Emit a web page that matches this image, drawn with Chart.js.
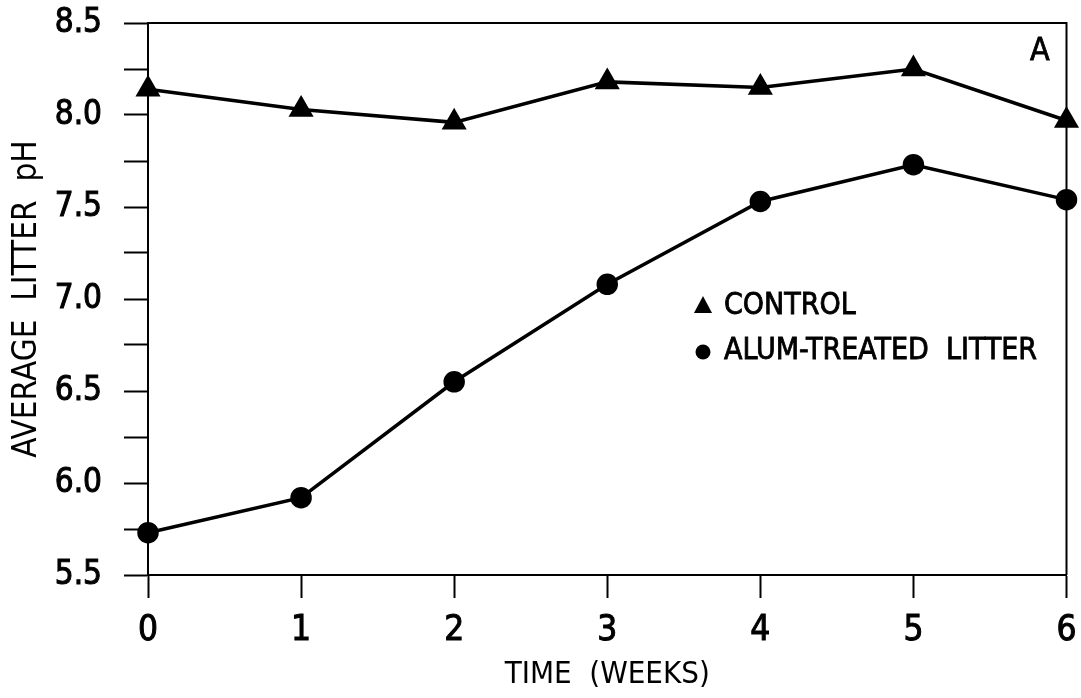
<!DOCTYPE html>
<html>
<head>
<meta charset="utf-8">
<script src="https://cdn.jsdelivr.net/npm/chart.js@4"></script>
<style>
  html, body { margin: 0; padding: 0; background: #fff; }
  #wrap { width: 1081px; height: 698px; position: relative; }
</style>
</head>
<body>
<div id="wrap"><canvas id="chart"></canvas></div>
<script>
// data
const weeks = ['0', '1', '2', '3', '4', '5', '6'];
const controlPH = [8.14, 8.03, 7.96, 8.18, 8.15, 8.25, 7.97];
const alumPH = [5.73, 5.92, 6.55, 7.08, 7.53, 7.73, 7.54];
const seriesNames = ['CONTROL', 'ALUM-TREATED  LITTER'];
const panelLabel = 'A';

const FONT = '"Liberation Sans Narrow", "DejaVu Sans Condensed", "Arial Narrow", sans-serif';

// draw the box around the plot, the legend and the panel letter
const framePlugin = {
    id: 'frame',
    afterDraw(chart) {
        const ctx = chart.ctx;
        const a = chart.chartArea;
        ctx.save();
        ctx.strokeStyle = '#000';
        ctx.lineWidth = 2;
        ctx.beginPath();
        ctx.moveTo(a.left, a.top);
        ctx.lineTo(a.right, a.top);
        ctx.lineTo(a.right, a.bottom);
        ctx.stroke();

        // legend
        ctx.fillStyle = '#000';
        ctx.lineWidth = 0.8;
        ctx.font = '30px ' + FONT;
        ctx.textBaseline = 'middle';
        ctx.textAlign = 'left';
        const lx = 703, tx = 724;
        const rows = [306, 351];
        chart.data.datasets.forEach((ds, i) => {
            const y = rows[i];
            ctx.beginPath();
            if (ds.pointStyle === 'triangle') {
                ctx.moveTo(lx, y - 10);
                ctx.lineTo(lx + 9, y + 7);
                ctx.lineTo(lx - 9, y + 7);
                ctx.closePath();
            } else {
                ctx.arc(lx, y + 1, 7.5, 0, Math.PI * 2);
            }
            ctx.fill();
            ctx.fillText(ds.label, tx, y);
            ctx.strokeText(ds.label, tx, y);
        });

        ctx.font = '32px ' + FONT;
        ctx.fillText(panelLabel, 1030, 52);
        ctx.strokeText(panelLabel, 1030, 52);
        ctx.restore();
    }
};

// drop the label overhang Chart.js reserves so the plot box sits where the figure has it
function noOverhang(scale) {
    scale.paddingTop = 0;
    scale.paddingBottom = 0;
    scale.paddingLeft = 0;
    scale.paddingRight = 0;
}

const chart = document.querySelector('#chart').getContext('2d');
new Chart(chart, {
    type: 'line',
    data: {
        labels: weeks,
        datasets: [
            {
                label: seriesNames[0],
                data: controlPH,
                borderColor: '#000',
                backgroundColor: '#000',
                borderWidth: 3.5,
                pointStyle: 'triangle',
                pointRadius: 11,
                pointHoverRadius: 11,
                tension: 0,
                clip: false
            },
            {
                label: seriesNames[1],
                data: alumPH,
                borderColor: '#000',
                backgroundColor: '#000',
                borderWidth: 3.5,
                pointStyle: 'circle',
                pointRadius: 9,
                pointHoverRadius: 9,
                tension: 0,
                clip: false
            }
        ]
    },
    options: {
        responsive: true,
        maintainAspectRatio: false,
        animation: false,
        layout: { padding: { top: 23, right: 13, left: 0, bottom: 0 } },
        plugins: {
            legend: { display: false },
            tooltip: { enabled: false }
        },
        scales: {
            x: {
                offset: false,
                grid: {
                    drawOnChartArea: false,
                    drawTicks: true,
                    tickLength: 23,
                    tickWidth: 2,
                    color: '#000'
                },
                border: { color: '#000', width: 2 },
                ticks: {
                    color: '#000',
                    padding: 12,
                    maxRotation: 0,
                    textStrokeColor: '#000',
                    textStrokeWidth: 1,
                    font: { family: FONT, size: 35 }
                },
                title: {
                    display: true,
                    text: 'TIME  (WEEKS)',
                    color: '#000',
                    padding: { top: 0, bottom: 4 },
                    font: { family: FONT, size: 31 }
                },
                afterFit(scale) { scale.height = 123; noOverhang(scale); }
            },
            y: {
                min: 5.5,
                max: 8.5,
                grid: {
                    drawOnChartArea: false,
                    drawTicks: true,
                    tickLength: 24,
                    tickWidth: 2,
                    color: '#000'
                },
                border: { color: '#000', width: 2 },
                ticks: {
                    stepSize: 0.25,
                    color: '#000',
                    padding: 22,
                    textStrokeColor: '#000',
                    textStrokeWidth: 1,
                    font: { family: FONT, size: 33 },
                    callback: (v) => (Math.abs(v * 2 - Math.round(v * 2)) < 1e-6 ? v.toFixed(1) : '')
                },
                title: {
                    display: true,
                    text: 'AVERAGE  LITTER  pH',
                    color: '#000',
                    padding: { top: 8, bottom: 0 },
                    font: { family: FONT, size: 33 }
                },
                afterFit(scale) { scale.width = 148; noOverhang(scale); }
            }
        }
    },
    plugins: [framePlugin]
});
</script>
</body>
</html>
